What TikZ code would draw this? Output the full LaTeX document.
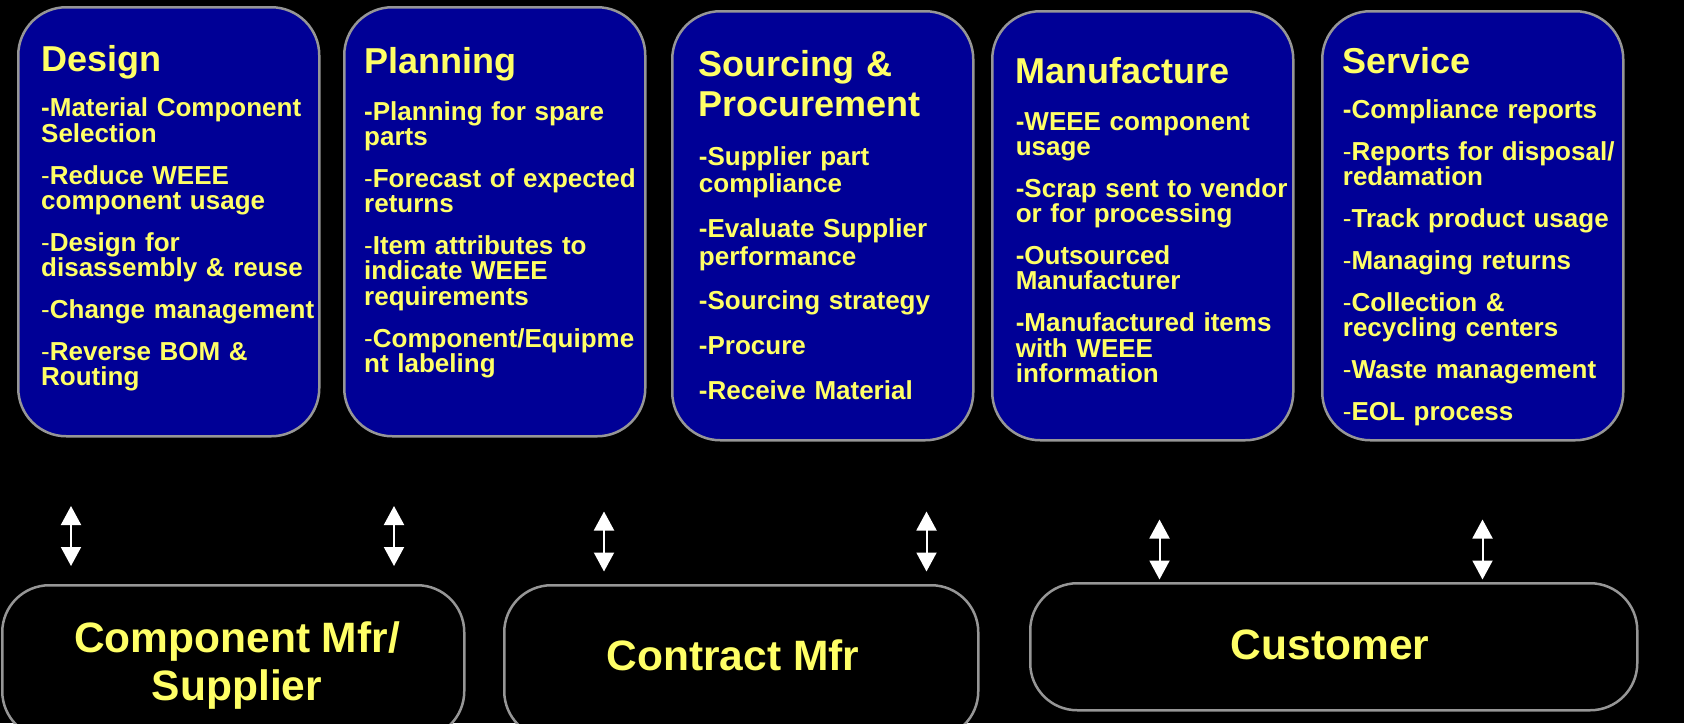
\documentclass[tikz,border=0pt]{standalone}
\usepackage{fontspec}
\setmainfont{Liberation Sans}
\usepackage{xcolor}
\usepackage{tikz}
\usetikzlibrary{arrows.meta}

\definecolor{navyfill}{RGB}{0,0,150}
\definecolor{edgegray}{RGB}{150,150,150}
\definecolor{paleyellow}{RGB}{255,255,102}

% dash drawn in the regular weight, as in most list items
\newcommand{\lightdash}{{\mdseries -}}
\newcommand{\itemgap}{\\[16.7pt]}

\tikzset{
    stagebox/.style={draw=edgegray, line width=2.5pt, fill=navyfill, rounded corners=48pt,
        minimum width=301pt, minimum height=429pt, anchor=north west, inner sep=0pt},
    partnerbox/.style={draw=edgegray, line width=2.5pt, fill=black, rounded corners=47pt,
        anchor=north west, inner sep=0pt},
    stagetitle/.style={text=paleyellow, font=\fontsize{36}{40.7}\selectfont\bfseries,
        anchor=base west, inner sep=0pt, text width=295pt, align=left},
    stageitems/.style={text=paleyellow, font=\fontsize{26}{25.3}\selectfont\bfseries,
        anchor=base west, inner sep=0pt, text width=295pt, align=left},
    partnername/.style={text=paleyellow, font=\fontsize{42.5}{48}\selectfont\bfseries, align=center},
    updown/.style={draw=white, line width=2pt,
        {Triangle[length=19pt,width=20pt]}-{Triangle[length=19pt,width=20pt]}},
}

\begin{document}
\begin{tikzpicture}[x=1pt,y=-1pt]
    \useasboundingbox (0,0) rectangle (1684,723);
    \clip (0,0) rectangle (1684,723);
    \fill[black] (0,0) rectangle (1684,723);

    % Five stages of the product life cycle
    \foreach \name/\x/\y in {design/17/6, planning/343/6, sourcing/671/10, manufacture/991/10, service/1321/10} {
        \node[stagebox] (\name) at (\x,\y) {};
    }

    % Design
    \node[stagetitle] (designtitle) at (41,71.7) {Design};
    \node[stageitems] (designlist) at (41,116.7) {-Material Component\\Selection\itemgap
        \lightdash Reduce WEEE\\component usage\itemgap
        \lightdash Design for\\disassembly \& reuse\itemgap
        \lightdash Change management\itemgap
        \lightdash Reverse BOM \&\\Routing};

    % Planning
    \node[stagetitle] (planningtitle) at (364,73.3) {Planning};
    \node[stageitems] (planninglist) at (364,120) {-Planning for spare\\parts\itemgap
        \lightdash Forecast of expected\\returns\itemgap
        \lightdash Item attributes to\\indicate WEEE\\requirements\itemgap
        \lightdash Component/Equipme\\nt labeling};

    % Sourcing & Procurement
    \node[stagetitle] (sourcingtitle) at (698.7,76) {Sourcing \&\\Procurement};
    \node[stageitems, font=\fontsize{26}{27.7}\selectfont\bfseries] (sourcinglist) at (698.7,165)
        {-Supplier part\\compliance\\[17pt]
        -Evaluate Supplier\\performance\\[17pt]
        -Sourcing strategy\\[17pt]
        -Procure\\[17pt]
        -Receive Material};

    % Manufacture
    \node[stagetitle] (manufacturetitle) at (1015.6,83.3) {Manufacture};
    \node[stageitems] (manufacturelist) at (1015.6,130) {-WEEE component\\usage\itemgap
        -Scrap sent to vendor\\or for processing\itemgap
        -Outsourced\\Manufacturer\itemgap
        -Manufactured items\\with WEEE\\information};

    % Service
    \node[stagetitle] (servicetitle) at (1342.7,73.3) {Service};
    \node[stageitems] (servicelist) at (1342.7,118.3) {-Compliance reports\itemgap
        \lightdash Reports for disposal/\\redamation\itemgap
        \lightdash Track product usage\itemgap
        \lightdash Managing returns\itemgap
        \lightdash Collection \&\\recycling centers\itemgap
        \lightdash Waste management\itemgap
        \lightdash EOL process};

    % Two-way links
    \foreach \n/\x/\y in {1/71/506, 2/394/506, 3/604/511.5, 4/926.5/511.5, 5/1159.5/519.5, 6/1482.5/519.5} {
        \coordinate (top\n) at (\x,\y);
        \coordinate (bot\n) at (\x,\y+60);
        \draw[updown] (top\n) -- (bot\n);
    }

    % Partners
    \node[partnerbox, minimum width=462pt, minimum height=153pt] (component) at (1,584) {};
    \node[partnerbox, minimum width=474pt, minimum height=153pt] (contract) at (503,584) {};
    \node[partnerbox, minimum width=607pt, minimum height=127pt] (customer) at (1029,582) {};
    \node[partnername] (componentname) at (237,666) {Component Mfr/\\Supplier};
    \node[partnername] (contractname) at (733,655) {Contract Mfr};
    \node[partnername] (customername) at (1330,645) {Customer};
\end{tikzpicture}
\end{document}
